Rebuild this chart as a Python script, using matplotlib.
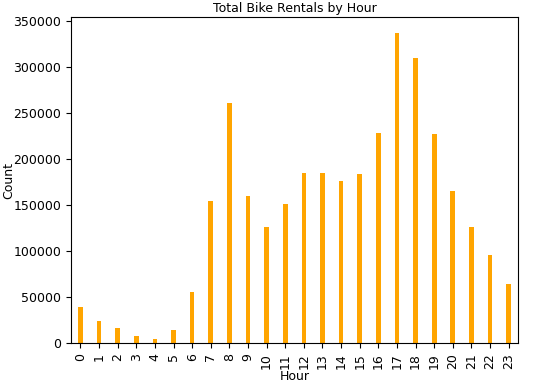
import matplotlib
matplotlib.use("Agg")
import matplotlib.pyplot as plt
import numpy as np

hours = list(range(24))
counts = [39130, 24164, 16352, 8174, 4428, 14261, 55132, 154171, 261001, 159438,
          126257, 151320, 184414, 184919, 175652, 183149, 227748, 336860, 309772,
          226789, 164550, 125445, 95612, 63941]

fig = plt.figure(figsize=(5.39, 3.89), dpi=100)
ax = fig.add_axes([0.132, 0.118, 0.829, 0.838])
x = np.arange(len(hours))
ax.bar(x, counts, width=0.25, color='orange')
ax.set_xlim(-0.5, len(hours) - 0.5)
ax.set_ylim(0, 353703)
ax.set_xticks(x)
ax.set_xticklabels([str(h) for h in hours], rotation=90, fontsize=9)
ax.set_yticks(np.arange(0, 350001, 50000))
ax.tick_params(axis='y', labelsize=9)
ax.set_title("Total Bike Rentals by Hour", fontsize=9, pad=4)
ax.set_xlabel("Hour", fontsize=9, labelpad=1)
ax.set_ylabel("Count", fontsize=9)
ax.yaxis.set_label_coords(-0.125, 0.5)
fig.savefig("out.png", dpi=100)
